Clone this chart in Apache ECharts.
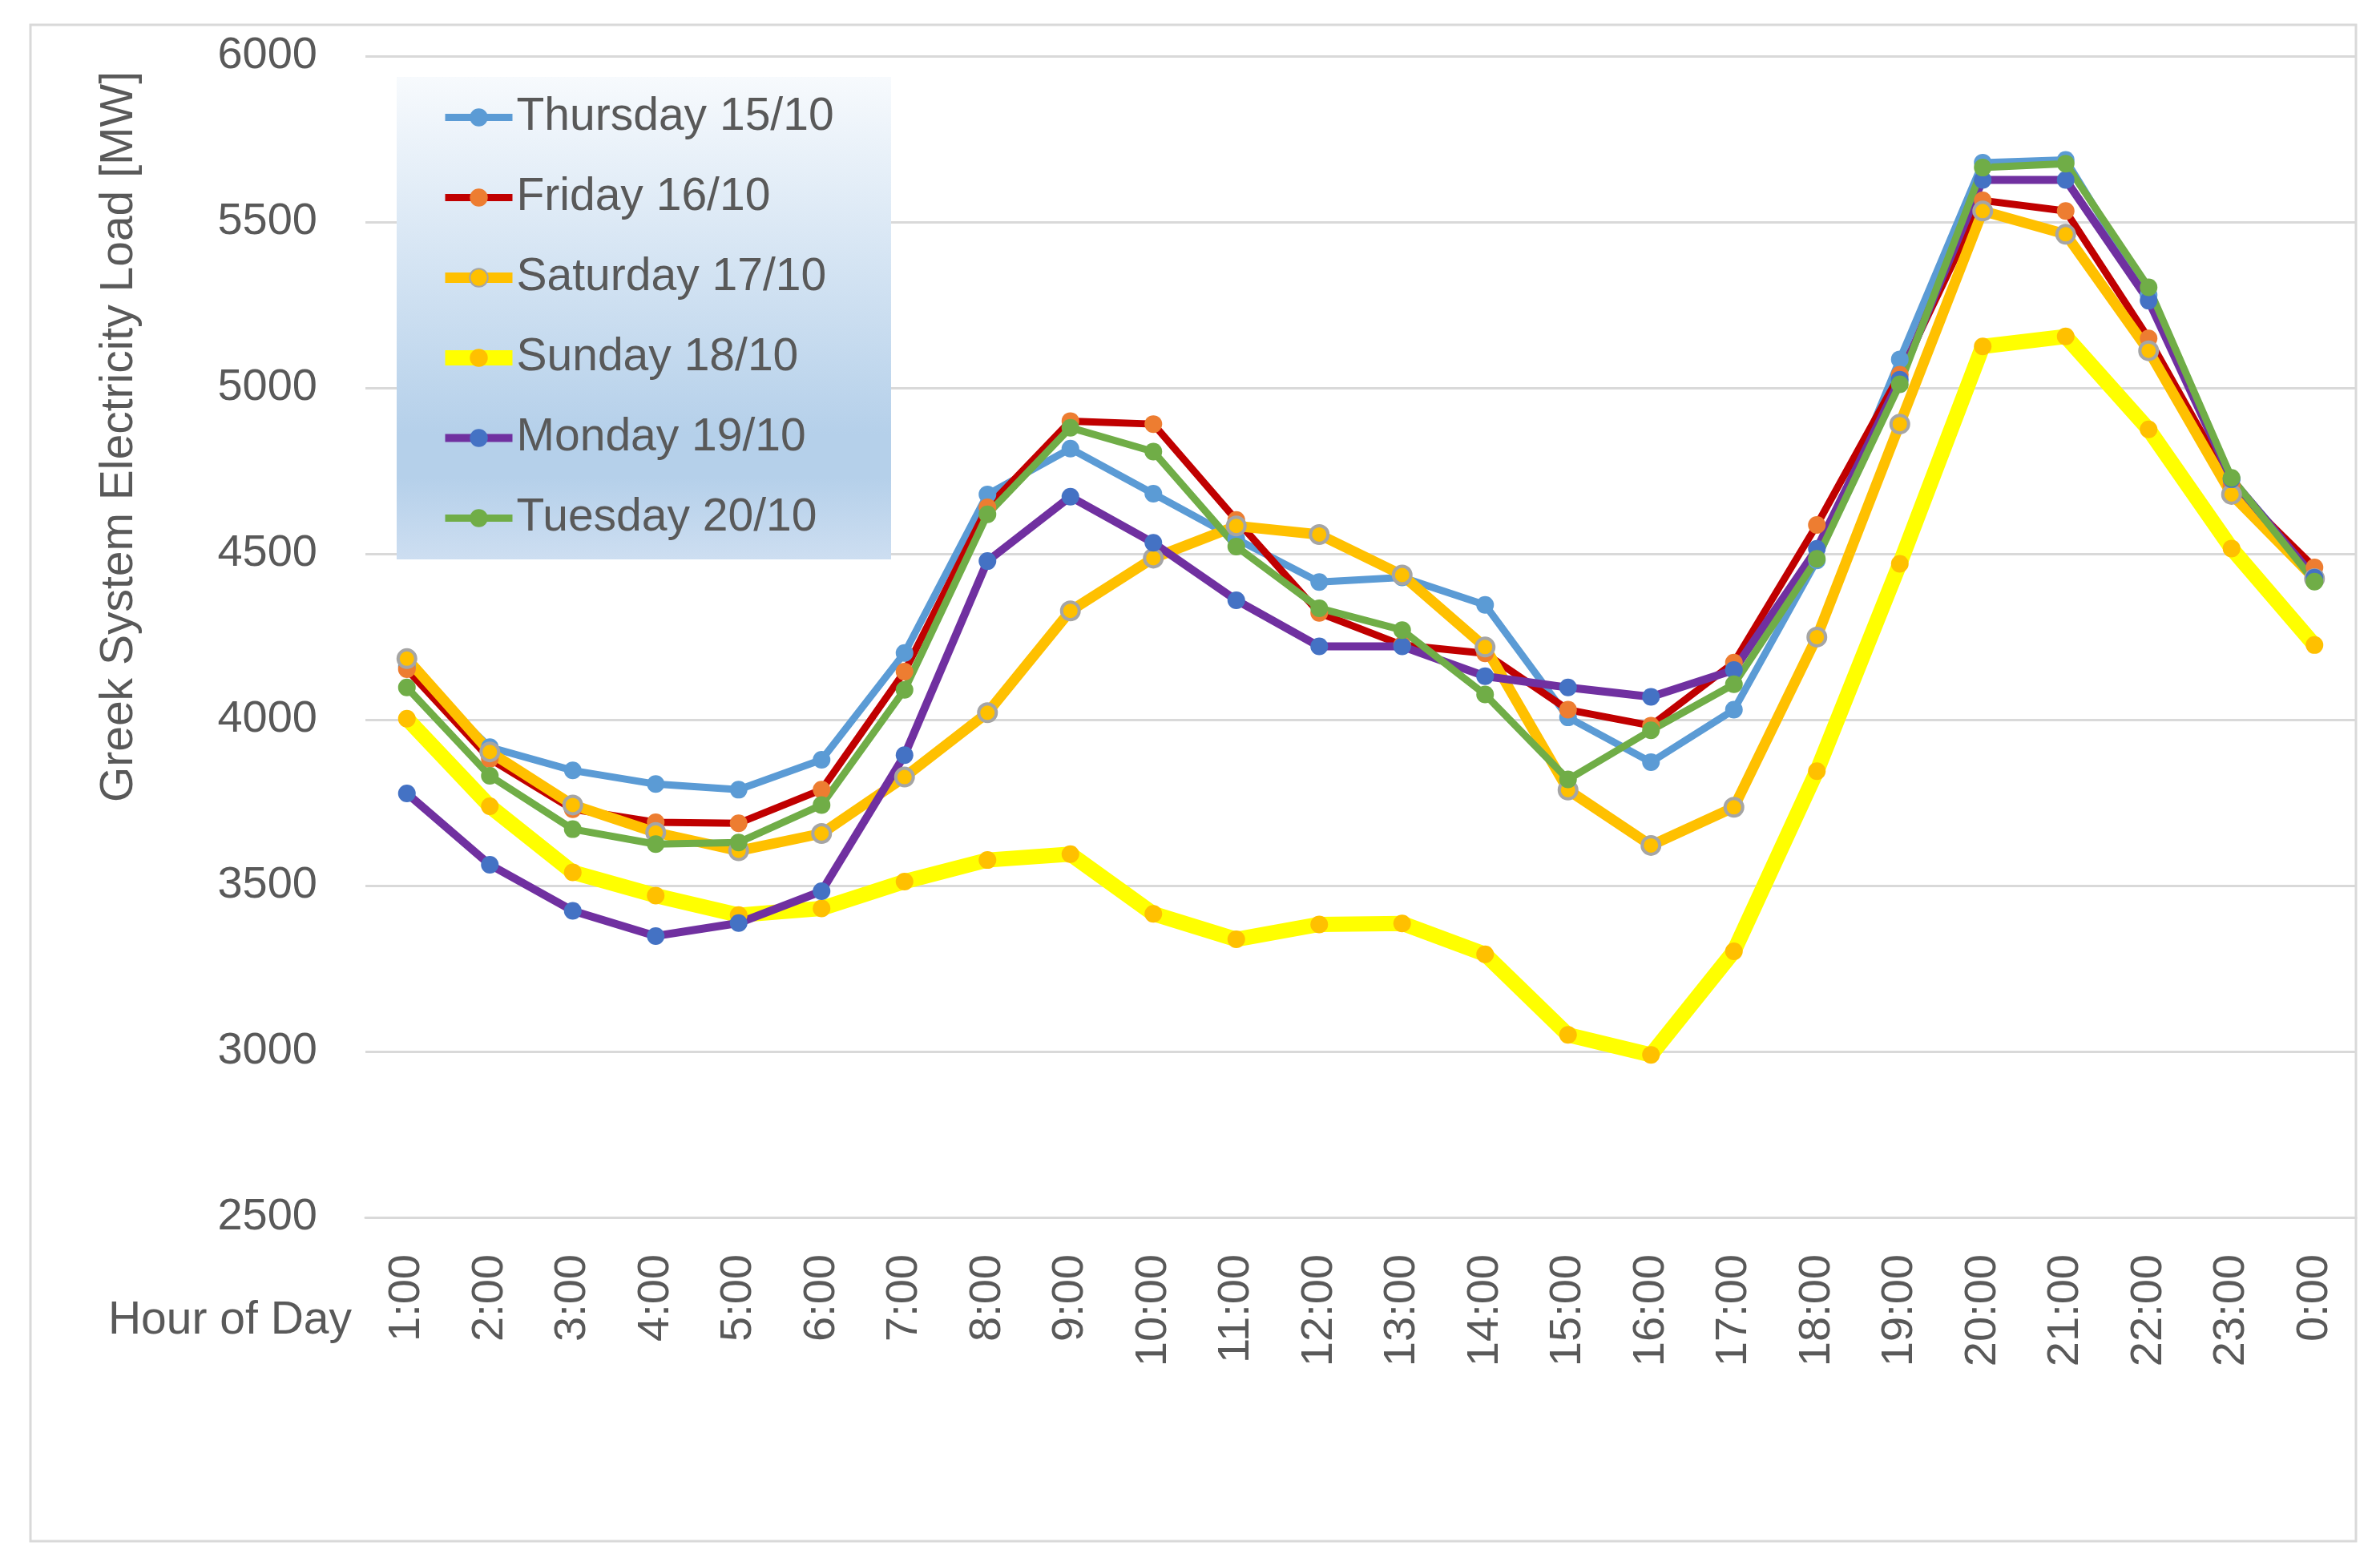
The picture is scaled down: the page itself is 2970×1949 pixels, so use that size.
<!DOCTYPE html>
<html>
<head>
<meta charset="utf-8">
<script src="https://cdn.jsdelivr.net/npm/echarts@6/dist/echarts.min.js"></script>
<style>
html,body{margin:0;padding:0;background:#fff;}
#chart{width:2970px;height:1949px;}
</style>
</head>
<body>
<div id="chart"></div>
<script>
var hours = ['1:00','2:00','3:00','4:00','5:00','6:00','7:00','8:00','9:00','10:00','11:00','12:00','13:00','14:00','15:00','16:00','17:00','18:00','19:00','20:00','21:00','22:00','23:00','0:00'];
var yTicks = [2500, 3000, 3500, 4000, 4500, 5000, 5500, 6000];

var thursday = [4160, 3917, 3847, 3806, 3789, 3879, 4201, 4679, 4817, 4681, 4545, 4415, 4429, 4346, 4007, 3872, 4030, 4480, 5086, 5679, 5687, 5280, 4725, 4436];
var friday   = [4152, 3882, 3730, 3691, 3688, 3789, 4145, 4640, 4900, 4891, 4602, 4322, 4225, 4200, 4030, 3982, 4172, 4587, 5040, 5565, 5533, 5149, 4705, 4459];
var saturday = [4184, 3903, 3743, 3660, 3605, 3657, 3827, 4021, 4328, 4487, 4584, 4558, 4436, 4219, 3788, 3621, 3736, 4249, 4891, 5533, 5463, 5112, 4679, 4425];
var sunday   = [4003, 3739, 3540, 3470, 3411, 3431, 3512, 3577, 3595, 3415, 3338, 3383, 3386, 3293, 3050, 2990, 3302, 3845, 4470, 5125, 5155, 4875, 4516, 4225];
var monday   = [3778, 3563, 3424, 3348, 3387, 3483, 3893, 4478, 4672, 4533, 4360, 4221, 4221, 4131, 4097, 4069, 4150, 4515, 5025, 5627, 5627, 5263, 4725, 4428];
var tuesday  = [4097, 3831, 3670, 3625, 3630, 3743, 4090, 4619, 4880, 4808, 4522, 4336, 4270, 4076, 3820, 3968, 4107, 4485, 5011, 5664, 5676, 5303, 4729, 4416];

var seriesNames = ['Thursday 15/10','Friday 16/10','Saturday 17/10','Sunday 18/10','Monday 19/10','Tuesday 20/10'];
var xTitle = 'Hour of Day';
var yTitle = 'Greek System Electricity Load [MW]';

var FONT = '"Liberation Sans", Arial, sans-serif';
var TXT = '#595959';

function mk(name, data, lineColor, lineWidth, markColor, border) {
  return {
    name: name, type: 'line', data: data,
    symbol: 'circle', symbolSize: 22,
    lineStyle: {color: lineColor, width: lineWidth},
    itemStyle: {color: markColor, borderColor: border ? '#A5A5A5' : markColor, borderWidth: border ? 4 : 0},
    emphasis: {disabled: true},
    animation: false
  };
}

var chart = echarts.init(document.getElementById('chart'), null, {renderer: 'canvas'});
chart.setOption({
  backgroundColor: '#ffffff',
  animation: false,
  grid: {left: 456, right: 30, top: 70, bottom: 430, containLabel: false},
  legend: {
    orient: 'vertical',
    left: 546, top: 118,
    padding: 0,
    itemWidth: 84, itemHeight: 28, itemGap: 43,
    z: 6,
    lineStyle: {width: 'inherit'},
    textStyle: {fontFamily: FONT, fontSize: 57, color: TXT, lineHeight: 57},
    data: seriesNames
  },
  xAxis: {
    type: 'category', data: hours, boundaryGap: true,
    axisLine: {show: true, lineStyle: {color: '#D9D9D9', width: 3}},
    axisTick: {show: false},
    axisLabel: {rotate: 90, margin: 46, fontFamily: FONT, fontSize: 56, color: TXT, interval: 0}
  },
  yAxis: {
    type: 'value', min: yTicks[0], max: yTicks[yTicks.length - 1], interval: 500,
    axisLine: {show: false}, axisTick: {show: false},
    splitLine: {show: true, lineStyle: {color: '#D9D9D9', width: 3}},
    axisLabel: {margin: 60, fontFamily: FONT, fontSize: 56, color: TXT, formatter: function (v) { return String(v); }}
  },
  graphic: [
    {type: 'rect', z: 0, silent: true, shape: {x: 38, y: 31, width: 2902, height: 1892},
     style: {fill: 'none', stroke: '#D9D9D9', lineWidth: 3}},
    {type: 'rect', z: 5, silent: true, shape: {x: 495, y: 96, width: 617, height: 602},
     style: {fill: new echarts.graphic.LinearGradient(0, 0, 0, 1, [
       {offset: 0, color: '#F7FAFD'},
       {offset: 0.74, color: '#B5D0EA'},
       {offset: 0.83, color: '#B5D0EA'},
       {offset: 1, color: '#CDDEF1'}
     ])}},
    {type: 'text', z: 5, silent: true, x: 439, y: 1648,
     style: {text: xTitle, fontFamily: FONT, fontSize: 57, fill: TXT, textAlign: 'right', textVerticalAlign: 'middle'}},
    {type: 'text', z: 5, silent: true, x: 149, y: 545, rotation: Math.PI / 2,
     style: {text: yTitle, fontFamily: FONT, fontSize: 57, fill: TXT, textAlign: 'center', textVerticalAlign: 'middle'}}
  ],
  series: [
    mk(seriesNames[0], thursday, '#5B9BD5', 9, '#5B9BD5', false),
    mk(seriesNames[1], friday, '#C00000', 9, '#ED7D31', false),
    mk(seriesNames[2], saturday, '#FFC000', 13, '#FFC000', true),
    mk(seriesNames[3], sunday, '#FFFF00', 19, '#FFC000', false),
    mk(seriesNames[4], monday, '#7030A0', 10, '#4472C4', false),
    mk(seriesNames[5], tuesday, '#70AD47', 9, '#70AD47', false)
  ]
});
</script>
</body>
</html>
